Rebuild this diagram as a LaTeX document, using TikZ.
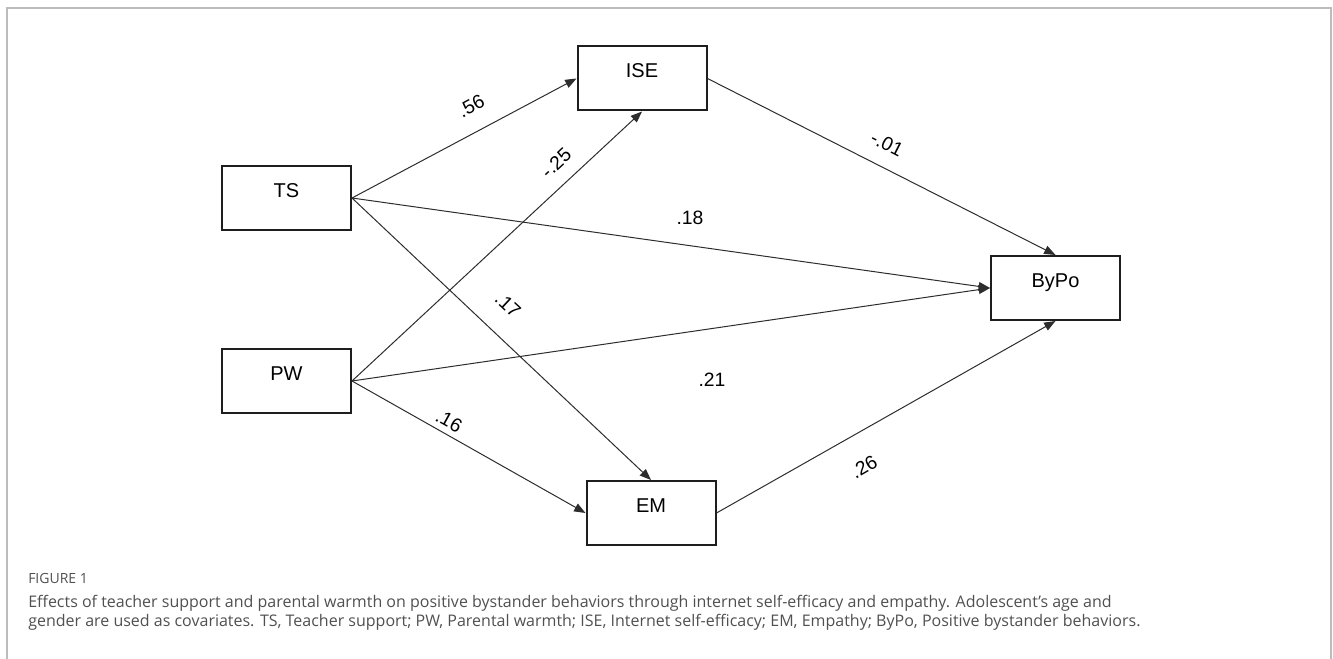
\documentclass[tikz,border=0pt]{standalone}
\usepackage{fontspec}
\setmainfont{Open Sans}
\setsansfont{Liberation Sans}
\usetikzlibrary{arrows.meta}
\definecolor{framegray}{RGB}{188,188,188}
\definecolor{capgray}{RGB}{80,80,80}
\definecolor{linegray}{RGB}{45,45,45}

\begin{document}
\begin{tikzpicture}[x=0.75pt,y=0.75pt,yscale=-1,xscale=1,
  varbox/.style={draw={rgb, 255:red, 30; green, 30; blue, 30}, line width=1.5pt, minimum width=96.75pt, minimum height=48pt, inner sep=0pt, font=\sffamily\fontsize{15}{18}\selectfont, text height=11pt, text depth=12pt},
  pathline/.style={draw=linegray, line width=0.75pt, -{Triangle[length=8.5pt,width=6.5pt]}},
  coef/.style={font=\sffamily\fontsize{14.5}{17}\selectfont, inner sep=0.75pt},
  captext/.style={anchor=west, inner sep=0pt, text=capgray, font=\fontsize{12}{14}\selectfont}]
\useasboundingbox (0,0) rectangle (1333,659);

%Frame
\draw [framegray, line width=1.5pt] (7,659) -- (7,8) -- (1331,8) -- (1331,659) ;

% Boxes
\node [varbox] (ts) at (286.5,198) {TS};
\node [varbox] (pw) at (286.5,381) {PW};
\node [varbox] (ise) at (642,78.5) {ISE};
\node [varbox] (em) at (651,513) {EM};
\node [varbox] (bypo) at (1055.5,288) {ByPo};

% Paths
\draw [pathline] (ts.east) -- (ise.west) ;
\draw [pathline] (ts.east) -- (bypo.west) ;
\draw [pathline] (ts.east) -- (em.north) ;
\draw [pathline] (pw.east) -- (ise.south) ;
\draw [pathline] (pw.east) -- (bypo.west) ;
\draw [pathline] (pw.east) -- (em.west) ;
\draw [pathline] (ise.east) -- (bypo.north) ;
\draw [pathline] (em.east) -- (bypo.south) ;

% Coefficients
\node [coef, rotate=28] (c56) at (471,106) {.56};
\node [coef, rotate=43] (c25) at (556,163) {-.25};
\node [coef, rotate=-43] (c17) at (508,305) {.17};
\node [coef] (c18) at (690,218) {.18};
\node [coef] (c21) at (712,380) {.21};
\node [coef, rotate=-29] (c16) at (449,421) {.16};
\node [coef, rotate=-27] (c01) at (887,144) {-.01};
\node [coef, rotate=30] (c26) at (864,467) {.26};

% Caption
\node [captext, font=\fontsize{10.5}{12}\selectfont] (fignum) at (28,578) {FIGURE 1};
\node [captext] (capa) at (28,603) {Effects of teacher support and parental warmth on positive bystander behaviors through internet self-efficacy and empathy. Adolescent’s age and};
\node [captext] (capb) at (28,622) {gender are used as covariates. TS, Teacher support; PW, Parental warmth; ISE, Internet self-efficacy; EM, Empathy; ByPo, Positive bystander behaviors.};

\end{tikzpicture}
\end{document}
